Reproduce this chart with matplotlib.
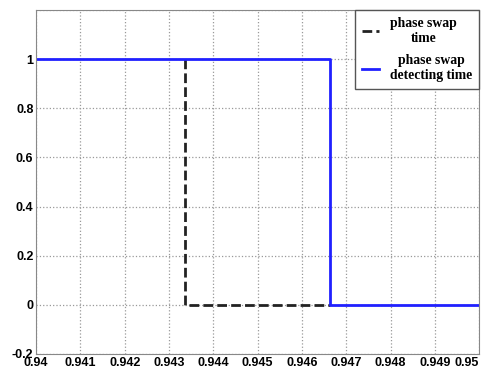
import matplotlib.pyplot as plt

# step signals (time, value)
swap_t = [0.94336, 0.94336, 0.94664]
swap_v = [1, 0, 0]
detect_t = [0.94, 0.94664, 0.94664, 0.95]
detect_v = [1, 1, 0, 0]

xticks = [0.94, 0.941, 0.942, 0.943, 0.944, 0.945, 0.946, 0.947, 0.948, 0.949, 0.95]
xlabels = ['0.94', '0.941', '0.942', '0.943', '0.944', '0.945', '0.946', '0.947', '0.948', '0.949', '0.95']
yticks = [-0.2, 0, 0.2, 0.4, 0.6, 0.8, 1]
ylabels = ['-0.2', '0', '0.2', '0.4', '0.6', '0.8', '1']

fig = plt.figure(figsize=(4.89, 3.73), dpi=100)
ax = fig.add_axes([0.074, 0.051, 0.906, 0.922])

ax.plot(swap_t, swap_v, color='#222222', linestyle=(0, (3.5, 1.5)), lw=2, label='phase swap\ntime')
ax.plot(detect_t, detect_v, color='#2020ff', lw=2, label='phase swap\ndetecting time')

ax.set_xlim(0.94, 0.95)
ax.set_ylim(-0.2, 1.2)
ax.set_xticks(xticks)
ax.set_xticklabels(xlabels, fontsize=9, fontweight='bold', family='Liberation Sans')
ax.get_xticklabels()[-1].set_horizontalalignment('right')
ax.set_yticks(yticks + [1.2])
ax.set_yticklabels(ylabels + [''], fontsize=9, fontweight='bold', family='Liberation Sans')
ax.tick_params(length=0, pad=2)

# grid
ax.grid(color='#999999', linestyle=':', lw=0.9)
for s in ax.spines.values():
    s.set_color('#888888')

leg = ax.legend(loc='upper right', prop={'family': 'Liberation Serif', 'weight': 'bold', 'size': 9.8},
                handlelength=1.3, fancybox=False, edgecolor='#555555', framealpha=1,
                borderaxespad=0, labelspacing=0.7, borderpad=0.5)
for t in leg.get_texts():
    t.set_multialignment('center')

plt.savefig('out.png')
